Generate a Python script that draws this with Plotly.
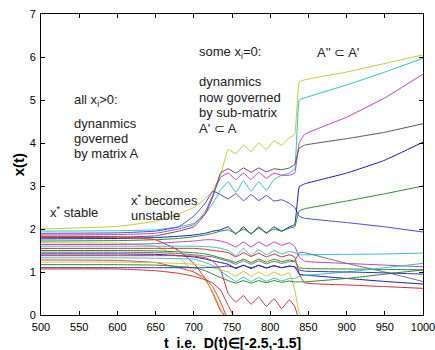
import plotly.graph_objects as go

# time grid (sample points)
T = [500, 600, 650, 680, 700, 715, 725, 735, 745, 755, 765, 775, 785, 795, 805, 815, 825, 832, 838, 845, 900, 950, 1000]

# series values x_i(t)
yellow_top = [2.0, 2.06, 2.18, 2.35, 2.5, 2.7, 2.9, 3.25, 3.85, 3.75, 3.95, 3.8, 4.0, 3.85, 4.05, 3.95, 4.12, 4.2, 5.42, 5.47, 5.65, 5.85, 6.05]
cyan_top = [1.95, 1.96, 1.98, 2.05, 2.13, 2.35, 2.6, 2.9, 3.1, 2.85, 3.12, 2.88, 3.1, 2.9, 3.15, 3.25, 3.3, 3.4, 5.0, 5.05, 5.35, 5.65, 5.97]
purple_mid = [1.9, 1.91, 1.95, 2.05, 2.3, 2.6, 2.88, 2.8, 2.7, 2.82, 2.66, 2.8, 2.66, 2.78, 2.65, 2.68, 2.6, 2.5, 2.3, 2.25, 2.15, 2.05, 1.93]
magenta_top = [1.86, 1.87, 1.9, 2.0, 2.1, 2.4, 2.8, 3.2, 3.3, 3.15, 3.3, 3.15, 3.32, 3.18, 3.3, 3.25, 3.25, 3.3, 4.0, 4.2, 4.6, 5.05, 5.6]
gray_top = [1.8, 1.81, 1.84, 1.95, 2.05, 2.35, 2.75, 3.3, 3.4, 3.3, 3.42, 3.32, 3.42, 3.33, 3.4, 3.38, 3.42, 3.5, 3.88, 3.95, 4.1, 4.25, 4.45]
blue_up = [1.77, 1.78, 1.8, 1.83, 1.86, 1.9, 1.95, 1.98, 2.05, 1.88, 2.05, 1.88, 2.05, 1.9, 2.05, 1.95, 2.05, 2.1, 2.98, 3.05, 3.3, 3.6, 4.02]
green_up = [1.72, 1.73, 1.75, 1.78, 1.82, 1.86, 1.9, 1.95, 1.98, 1.9, 2.0, 1.9, 2.02, 1.92, 2.0, 1.95, 2.02, 2.05, 2.42, 2.47, 2.65, 2.82, 3.0]
red_zero1 = [1.83, 1.82, 1.75, 1.5, 1.2, 0.85, 0.5, 0.1, -0.1, -0.1, -0.1, -0.1, -0.1, -0.1, -0.1, -0.1, -0.1, -0.1, -0.1, -0.1, -0.1, -0.1, -0.1]
yellow_zero1 = [1.68, 1.67, 1.6, 1.35, 1.0, 0.8, 0.55, 0.15, -0.1, -0.1, -0.1, -0.1, -0.1, -0.1, -0.1, -0.1, -0.1, -0.1, -0.1, -0.1, -0.1, -0.1, -0.1]
magenta_mid = [1.64, 1.64, 1.66, 1.7, 1.72, 1.75, 1.75, 1.72, 1.67, 1.58, 1.7, 1.58, 1.7, 1.6, 1.7, 1.62, 1.68, 1.6, 1.35, 1.25, 1.2, 1.16, 1.12]
cyan_mid = [1.6, 1.6, 1.6, 1.6, 1.6, 1.59, 1.58, 1.55, 1.5, 1.38, 1.55, 1.38, 1.52, 1.4, 1.5, 1.42, 1.48, 1.45, 1.4, 1.4, 1.41, 1.42, 1.44]
red_mid = [1.55, 1.55, 1.55, 1.55, 1.55, 1.53, 1.5, 1.48, 1.45, 1.35, 1.45, 1.36, 1.44, 1.35, 1.42, 1.35, 1.4, 1.35, 0.95, 0.75, 0.7, 0.66, 0.62]
green_mid = [1.5, 1.5, 1.49, 1.47, 1.45, 1.42, 1.38, 1.33, 1.28, 1.22, 1.3, 1.22, 1.3, 1.23, 1.3, 1.24, 1.28, 1.25, 1.1, 1.08, 1.07, 1.06, 1.05]
gray_mid = [1.46, 1.46, 1.45, 1.43, 1.4, 1.37, 1.35, 1.3, 1.25, 1.18, 1.26, 1.18, 1.26, 1.19, 1.25, 1.2, 1.24, 1.25, 1.45, 1.45, 1.2, 1.0, 0.78]
blue_mid = [1.42, 1.42, 1.41, 1.38, 1.35, 1.3, 1.26, 1.22, 1.18, 1.08, 1.16, 1.08, 1.16, 1.09, 1.15, 1.1, 1.14, 1.12, 0.95, 0.93, 0.85, 0.78, 0.72]
crimson_low = [1.38, 1.38, 1.38, 1.38, 1.37, 1.33, 1.25, 1.05, 0.5, 0.3, 0.45, 0.25, 0.42, 0.2, 0.38, 0.15, 0.35, 0.2, -0.1, -0.1, -0.1, -0.1, -0.1]
cyan_low = [1.33, 1.33, 1.32, 1.31, 1.3, 1.22, 1.15, 1.02, 0.9, 0.78, 0.88, 0.78, 0.87, 0.78, 0.86, 0.79, 0.85, 0.85, 0.9, 0.92, 1.0, 1.1, 1.2]
red_zero2 = [1.28, 1.27, 1.22, 1.1, 1.0, 0.85, 0.65, 0.3, -0.1, -0.1, -0.1, -0.1, -0.1, -0.1, -0.1, -0.1, -0.1, -0.1, -0.1, -0.1, -0.1, -0.1, -0.1]
yellow_low = [1.23, 1.23, 1.22, 1.2, 1.18, 1.14, 1.1, 1.05, 1.0, 0.9, 1.02, 0.9, 1.0, 0.9, 1.0, 0.92, 0.98, 0.6, 0.05, -0.1, -0.1, -0.1, -0.1]
green_low = [1.17, 1.17, 1.16, 1.13, 1.1, 1.03, 0.95, 0.87, 0.8, 0.74, 0.8, 0.74, 0.8, 0.75, 0.8, 0.76, 0.79, 0.77, 0.77, 0.77, 0.85, 0.95, 1.05]
blue_low = [1.1, 1.1, 1.1, 1.1, 1.1, 1.1, 1.11, 1.12, 1.14, 1.1, 1.15, 1.1, 1.15, 1.1, 1.14, 1.1, 1.13, 1.12, 1.05, 1.02, 1.0, 0.98, 0.95]
red_zero3 = [1.07, 1.07, 1.03, 0.97, 0.9, 0.82, 0.74, 0.58, 0.22, -0.1, -0.1, -0.1, -0.1, -0.1, -0.1, -0.1, -0.1, -0.1, -0.1, -0.1, -0.1, -0.1, -0.1]

series = [
    (yellow_top, "#c8c832"), (cyan_top, "#30c0c8"), (purple_mid, "#4848d0"),
    (magenta_top, "#c040c0"), (gray_top, "#555555"), (blue_up, "#1818b0"),
    (green_up, "#2a8a2a"), (red_zero1, "#e02828"), (yellow_zero1, "#c8c832"),
    (magenta_mid, "#c040c0"), (cyan_mid, "#30c0c8"), (red_mid, "#e02828"),
    (green_mid, "#2a8a2a"), (gray_mid, "#707070"), (blue_mid, "#1818b0"),
    (crimson_low, "#d02858"), (cyan_low, "#30c0c8"), (red_zero2, "#e04040"),
    (yellow_low, "#c8c832"), (green_low, "#2a8a2a"), (blue_low, "#3030c0"),
    (red_zero3, "#e02828"),
]

fig = go.Figure()
for vals, col in series:
    fig.add_trace(go.Scatter(x=T, y=vals, mode="lines",
                             line=dict(color=col, width=1, shape="spline", smoothing=0.3),
                             showlegend=False, hoverinfo="skip"))

FONT = "Liberation Sans, Arial, sans-serif"

def note(t, y, s, size=13):
    fig.add_annotation(x=t, y=y, xref="x", yref="y", text=s, showarrow=False,
                       xanchor="left", yanchor="middle", borderpad=0,
                       font=dict(family=FONT, size=size, color="#222222"))

note(542, 5.0, "all x<sub>i</sub>>0:")
note(542, 4.45, "dynanmics")
note(542, 4.1, "governed")
note(542, 3.75, "by matrix A")

note(705, 6.1, "some x<sub>i</sub>=0:")
note(705, 5.42, "dynanmics")
note(705, 5.06, "now governed")
note(705, 4.7, "by sub-matrix")
note(705, 4.33, "A' ⊂ A")

note(860, 6.1, "A'' ⊂ A'")

note(511, 2.4, "x<sup>*</sup> stable")
note(616, 2.68, "x<sup>*</sup> becomes")
note(616, 2.32, "unstable")

# axis titles
fig.add_annotation(x=0.5, y=-0.059, xref="paper", yref="paper", yanchor="top",
                   text="<b>t  i.e.  D(t)∈[-2.5,-1.5]</b>", showarrow=False,
                   font=dict(family=FONT, size=14, color="black"))
fig.add_annotation(x=-0.058, y=0.5, xref="paper", yref="paper", xanchor="center",
                   text="<b>x(t)</b>", showarrow=False, textangle=-90,
                   font=dict(family=FONT, size=15, color="black"))

axis_common = dict(showgrid=False, zeroline=False, showline=True, linecolor="black",
                   linewidth=1, mirror="ticks", ticks="inside", ticklen=4,
                   tickcolor="black", automargin=False, ticklabeloverflow="allow",
                   tickfont=dict(family=FONT, size=11, color="black"))

fig.update_xaxes(range=[500, 1000], tickmode="linear", tick0=500, dtick=50,
                 ticklabelstandoff=2, **axis_common)
fig.update_yaxes(range=[0, 7], tickmode="linear", tick0=0, dtick=1,
                 ticklabelstandoff=2, **axis_common)

fig.update_layout(width=435, height=350, margin=dict(l=41, r=12, t=14, b=35),
                  plot_bgcolor="white", paper_bgcolor="white")

fig.write_html("out.html", config={"displayModeBar": False},
               post_script="document.body.style.margin='0';")
